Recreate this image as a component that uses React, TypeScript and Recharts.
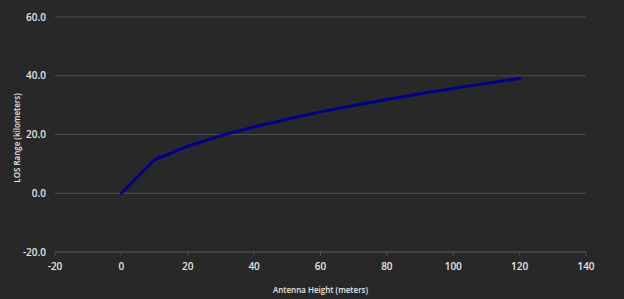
import { LineChart, Line, XAxis, YAxis, CartesianGrid } from 'recharts';

// antenna height (m) vs line-of-sight range (km)
const heights = [0, 10, 20, 30, 40, 50, 60, 70, 80, 90, 100, 110, 120];
const ranges = [0, 11.4, 16.0, 19.6, 22.6, 25.2, 27.7, 29.9, 31.9, 33.9, 35.7, 37.4, 39.1];
const xTicks = [-20, 0, 20, 40, 60, 80, 100, 120, 140];
const yTicks = [-20, 0, 20, 40, 60];

const data = heights.map((h, i) => ({ height: h, range: ranges[i] }));

const BG = '#282828';
const GRID = '#4d4d4d';
const TEXT = '#e6e6e6';
const FONT = '"Open Sans", "Noto Sans", sans-serif';

export default function App() {
    const tickStyle = { fill: TEXT, fontSize: 10, fontWeight: 600, fontFamily: FONT };
    return (
        <div style={{ position: 'fixed', left: 0, top: 0, width: 624, height: 299, background: BG }}>
            <LineChart width={624} height={299} data={data} margin={{ top: 17, right: 38, bottom: 0, left: 0 }}>
                <CartesianGrid vertical={false} stroke={GRID} strokeWidth={1} />
                <XAxis
                    dataKey="height"
                    type="number"
                    domain={[-20, 140]}
                    ticks={xTicks}
                    height={47}
                    stroke={GRID}
                    tickSize={4}
                    tickMargin={7}
                    tick={tickStyle}
                    label={{ value: 'Antenna Height (meters)', position: 'insideBottom', offset: 6, fill: TEXT, fontSize: 8, fontWeight: 600, fontFamily: FONT }}
                />
                <YAxis
                    type="number"
                    domain={[-20, 60]}
                    ticks={yTicks}
                    width={55}
                    axisLine={false}
                    tickLine={false}
                    tickMargin={3}
                    tick={tickStyle}
                    tickFormatter={(v: number) => v.toFixed(1)}
                    label={{
                        content: () => (
                            <text x={18} y={138} transform="rotate(-90 18 138)" textAnchor="middle" dominantBaseline="middle"
                                fill={TEXT} fontSize={8} fontWeight={600} fontFamily={FONT}>
                                LOS Range (kilometers)
                            </text>
                        ),
                    }}
                />
                <Line
                    dataKey="range"
                    type="linear"
                    stroke="#00008b"
                    strokeWidth={3}
                    strokeLinecap="round"
                    dot={false}
                    activeDot={false}
                    isAnimationActive={false}
                />
            </LineChart>
        </div>
    );
}
